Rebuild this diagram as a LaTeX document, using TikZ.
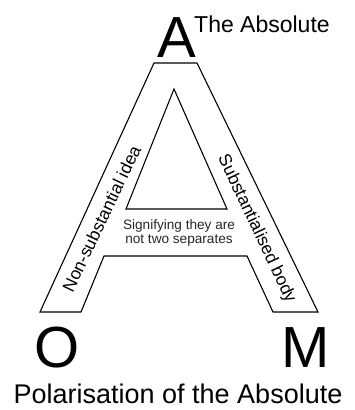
\documentclass[tikz,border=0pt]{standalone}
\usepackage{fontspec}
\setmainfont{Liberation Sans}
\usetikzlibrary{positioning,calc}

\begin{document}
\begin{tikzpicture}[
    x=1pt, y=-1pt,
    outline/.style={draw, line width=1.1pt, line join=miter},
    letter/.style={font=\fontsize{58}{58}\selectfont, inner sep=0pt, anchor=base},
    title/.style={font=\fontsize{23}{23}\selectfont, inner sep=0pt, anchor=base west},
    caption/.style={font=\fontsize{27}{27}\selectfont, inner sep=0pt, anchor=base},
    leglabel/.style={font=\fontsize{17.5}{17.5}\selectfont, inner sep=0pt},
    note/.style={font=\fontsize{13.6}{14}\selectfont, align=center, inner sep=0pt, text=black!85}
  ]
    \useasboundingbox (0,0) rectangle (355,410);
    % the big A
    \draw[outline] (40,312) -- (154,63) -- (197,63) -- (318,312) -- (273,312)
      -- (247,256) -- (104,256) -- (81,312) -- cycle;
    \draw[outline] (174,89) -- (227,209) -- (126,209) -- cycle;
    % letters
    \node[letter] (absA) at (177,57) {A};
    \node[title] (absolute) at (194,32) {The Absolute};
    \node[letter] (omO) at (57,367) {O};
    \node[letter] (omM) at (306,367) {M};
    \node[caption] (polar) at (178,403) {Polarisation of the Absolute};
    % legs and crossbar
    \node[leglabel, rotate=64.5] (idea) at (101.5,218.5) {Non-substantial idea};
    \node[leglabel, rotate=-64.7] (body) at (256.5,229) {Substantialised body};
    \node[note] (signify) at (179,233) {Signifying they are\\not two separates};
  \end{tikzpicture}
\end{document}
